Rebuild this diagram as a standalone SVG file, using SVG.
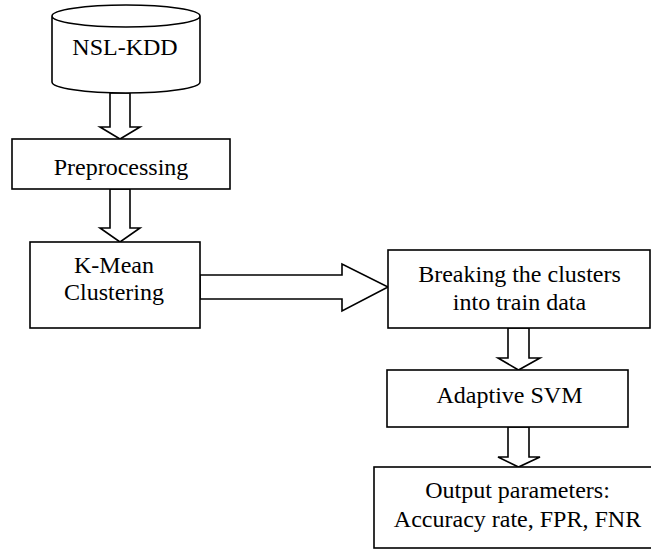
<svg xmlns="http://www.w3.org/2000/svg" width="651" height="550" viewBox="0 0 651 550">
<style>
.box{fill:#fff;stroke:#000;stroke-width:1.6}
.arr{fill:#fff;stroke:#000;stroke-width:1.6;stroke-linejoin:miter}
text{font-family:"Liberation Serif","Times New Roman",serif;font-size:24px;fill:#000;text-anchor:middle}
</style>
<rect width="651" height="550" fill="#fff"/>
<g id="connectors">
<polygon class="arr" points="110,93 130,93 130,127 140,127 120,139 100,127 110,127"/>
<polygon class="arr" points="110,189 130,189 130,228 140,228 120,242 100,228 110,228"/>
<polygon class="arr" points="200,275 342,275 342,264 388,287 342,311 342,299 200,299"/>
<polygon class="arr" points="508,328 529,328 529,358 540,358 518.5,370 498,358 508,358"/>
<polygon class="arr" points="508,427 529,427 529,457 540,457 518.5,467 498,457 508,457"/>
</g>
<g id="nsl-kdd">
<path class="box" d="M52,16 L52,82 A74,11 0 0 0 200,82 L200,16 A74,11 0 0 0 52,16 A74,11 0 0 0 200,16"/>
<text x="125" y="55">NSL-KDD</text>
</g>
<g id="preprocessing">
<rect class="box" x="12" y="139" width="218" height="50"/>
<text x="121" y="175">Preprocessing</text>
</g>
<g id="kmean">
<rect class="box" x="30" y="242" width="170" height="86"/>
<text x="114" y="273">K-Mean</text>
<text x="114" y="300">Clustering</text>
</g>
<g id="breaking">
<rect class="box" x="388" y="250" width="262" height="78"/>
<text x="519.5" y="282">Breaking the clusters</text>
<text x="519.5" y="310">into train data</text>
</g>
<g id="svm">
<rect class="box" x="387" y="370" width="241" height="57"/>
<text x="509.5" y="403">Adaptive SVM</text>
</g>
<g id="output">
<rect class="box" x="374" y="467" width="282" height="81"/>
<text x="517.5" y="498">Output parameters:</text>
<text x="517.5" y="527">Accuracy rate, FPR, FNR</text>
</g>
</svg>
